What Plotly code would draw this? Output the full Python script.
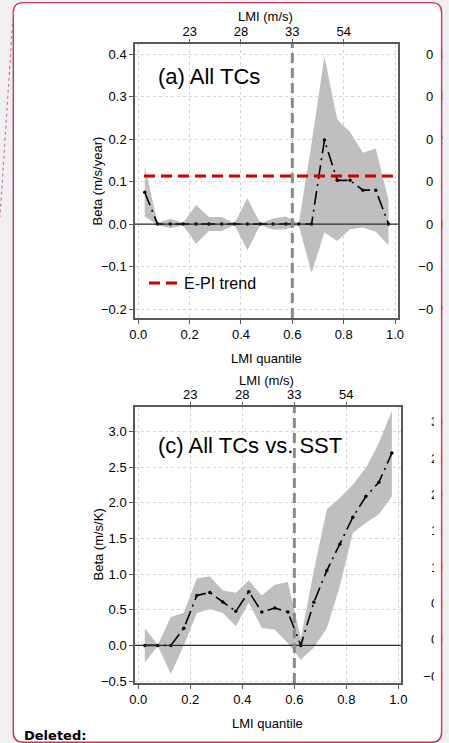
import plotly.graph_objects as go

W, H = 449, 743

# ---------------- data ----------------
quantile = [0.025, 0.075, 0.125, 0.175, 0.225, 0.275, 0.325, 0.375, 0.425, 0.475,
            0.525, 0.575, 0.625, 0.675, 0.725, 0.775, 0.825, 0.875, 0.925, 0.975]

beta_a = [0.075, 0.0, 0.0, 0.0, 0.0, 0.0, 0.0, 0.0, 0.0, 0.0,
          0.0, 0.0, 0.0, 0.0, 0.198, 0.103, 0.103, 0.080, 0.080, 0.0]
upper_a = [0.137, 0.003, 0.012, 0.003, 0.045, 0.017, 0.017, 0.002, 0.061, 0.002,
           0.013, 0.018, 0.002, 0.190, 0.395, 0.246, 0.217, 0.168, 0.178, 0.056]
lower_a = [0.018, -0.002, -0.010, -0.003, -0.046, -0.016, -0.016, -0.002, -0.062, -0.002,
           -0.013, -0.012, -0.002, -0.115, -0.020, -0.040, -0.012, -0.008, -0.018, -0.050]

beta_c = [0.0, 0.0, 0.0, 0.24, 0.70, 0.744, 0.61, 0.478, 0.754, 0.469,
          0.525, 0.469, 0.0, 0.605, 1.05, 1.42, 1.80, 2.09, 2.29, 2.70]
upper_c = [0.24, 0.01, 0.40, 0.46, 0.94, 0.97, 0.77, 0.74, 0.91, 0.70,
           0.85, 0.89, 0.10, 1.05, 1.91, 2.07, 2.26, 2.49, 2.84, 3.29]
lower_c = [-0.24, -0.01, -0.40, 0.0, 0.455, 0.51, 0.455, 0.27, 0.60, 0.244,
           0.22, 0.03, -0.20, -0.03, 0.24, 0.83, 1.58, 1.72, 1.84, 2.09]

epi_trend = 0.113
lmi_threshold_q = 0.6

x_ticks = [0.0, 0.2, 0.4, 0.6, 0.8, 1.0]
lmi_tick_q = [0.2, 0.4, 0.6, 0.8]
lmi_tick_text = ["23", "28", "33", "54"]
y_ticks_a = [-0.2, -0.1, 0.0, 0.1, 0.2, 0.3, 0.4]
y_ticks_c = [-0.5, 0.0, 0.5, 1.0, 1.5, 2.0, 2.5, 3.0]
y_ticks_d = [-0.5, 0.0, 0.5, 1.0, 1.5, 2.0, 2.5, 3.0]

title_a = "(a) All TCs"
title_c = "(c) All TCs vs. SST"
ylab_a = "Beta (m/s/year)"
ylab_c = "Beta (m/s/K)"
xlab = "LMI quantile"
toplab = "LMI (m/s)"

# ---------------- helpers ----------------
def fx(px):
    return px / W

def fy(py):
    return 1 - py / H

FONT = "Liberation Sans, Arial, Helvetica, sans-serif"
BAND = "#bfbfbf"
AX = "#5a5a5a"
GRID = "#d4d4d4"

xr_a = [-0.0129, 1.0117]
yr_a = [-0.221, 0.424]
xr_c = [-0.0127, 1.009]
yr_c = [-0.528, 3.351]
yr_d = [-0.596, 3.206]

dom_x_a = [fx(135), fx(398)]
dom_y_a = [fy(318), fy(44)]
dom_x_c = [fx(135), fx(400.7)]
dom_y_c = [fy(683), fy(406.7)]

fig = go.Figure()

def add_panel(xa, ya, beta, upper, lower):
    fig.add_trace(go.Scatter(x=quantile, y=lower, mode="lines", line=dict(width=0, color=BAND),
                             xaxis=xa, yaxis=ya, showlegend=False, hoverinfo="skip"))
    fig.add_trace(go.Scatter(x=quantile, y=upper, mode="lines", line=dict(width=0, color=BAND),
                             fill="tonexty", fillcolor=BAND,
                             xaxis=xa, yaxis=ya, showlegend=False, hoverinfo="skip"))
    fig.add_trace(go.Scatter(x=quantile, y=beta, mode="lines+markers",
                             line=dict(color="black", width=1.6, dash="14px,5px,2px,5px"),
                             marker=dict(color="black", size=3.5),
                             xaxis=xa, yaxis=ya, showlegend=False))

add_panel("x", "y", beta_a, upper_a, lower_a)
add_panel("x3", "y3", beta_c, upper_c, lower_c)

# E-PI trend line (panel a)
fig.add_trace(go.Scatter(x=[quantile[0] - 0.003, xr_a[1]], y=[epi_trend, epi_trend], mode="lines",
                         line=dict(color="#cc0000", width=3, dash="11px,6px"),
                         name="E-PI trend", xaxis="x", yaxis="y", showlegend=True, hoverinfo="skip"))

# dummy traces so auxiliary axes render
for xa, ya in [("x2", "y"), ("x", "y4"), ("x4", "y3"), ("x3", "y5")]:
    fig.add_trace(go.Scatter(x=[], y=[], xaxis=xa, yaxis=ya, showlegend=False, hoverinfo="skip"))

tickfont = dict(family=FONT, size=13, color="black")

def xaxis_main(domain, rng, anchor):
    return dict(domain=domain, range=rng, anchor=anchor, tickvals=x_ticks, tickformat=".1f",
                ticks="outside", ticklen=4, tickcolor=AX, tickwidth=1,
                showline=True, mirror=True, linecolor=AX, linewidth=1.5,
                showgrid=True, gridcolor=GRID, griddash="dot", gridwidth=1,
                zeroline=False, tickfont=tickfont, automargin=False, fixedrange=True)

def xaxis_top(over, rng, anchor):
    return dict(overlaying=over, side="top", anchor=anchor, range=rng, tickvals=lmi_tick_q,
                ticktext=lmi_tick_text, ticks="outside", ticklen=4, tickcolor=AX,
                showline=False, showgrid=False, zeroline=False, tickfont=tickfont,
                automargin=False, fixedrange=True, ticklabelstandoff=-2)

def yaxis_main(domain, rng, anchor, tv):
    return dict(domain=domain, range=rng, anchor=anchor, tickvals=tv, tickformat=".1f",
                ticks="outside", ticklen=4, tickcolor=AX, tickwidth=1,
                showline=True, mirror=True, linecolor=AX, linewidth=1.5,
                showgrid=True, gridcolor=GRID, griddash="dot", gridwidth=1,
                zeroline=False, tickfont=tickfont, automargin=False, fixedrange=True)

def yaxis_clip(over, rng, tv, standoff):
    return dict(overlaying=over, anchor="free", position=1.0, side="left", range=rng,
                tickvals=tv, tickformat=".1f", ticks="", showline=False, showgrid=False,
                zeroline=False, tickfont=tickfont, automargin=False, fixedrange=True,
                ticklabelstandoff=standoff)

shapes = []
def rrect_path(x0, y0, x1, y1, r):
    return (f"M {fx(x0 + r)},{fy(y0)} L {fx(x1 - r)},{fy(y0)} "
            f"Q {fx(x1)},{fy(y0)} {fx(x1)},{fy(y0 + r)} L {fx(x1)},{fy(y1 - r)} "
            f"Q {fx(x1)},{fy(y1)} {fx(x1 - r)},{fy(y1)} L {fx(x0 + r)},{fy(y1)} "
            f"Q {fx(x0)},{fy(y1)} {fx(x0)},{fy(y1 - r)} L {fx(x0)},{fy(y0 + r)} "
            f"Q {fx(x0)},{fy(y0)} {fx(x0 + r)},{fy(y0)} Z")

box = (13.3, 2.6, 441.6, 742.3, 10)
shapes.append(dict(type="path", xref="paper", yref="paper", path=rrect_path(*box),
                   fillcolor="white", line=dict(width=0), layer="below"))
shapes.append(dict(type="rect", xref="paper", yref="paper", x0=fx(434), x1=fx(441.2),
                   y0=fy(730), y1=fy(14), fillcolor="white", line=dict(width=0), layer="above"))
shapes.append(dict(type="rect", xref="paper", yref="paper", x0=fx(442.3), x1=1,
                   y0=0, y1=1, fillcolor="#f0f0f0", line=dict(width=0), layer="above"))
shapes.append(dict(type="path", xref="paper", yref="paper", path=rrect_path(*box),
                   fillcolor="rgba(0,0,0,0)", line=dict(color="#c8345a", width=1.4), layer="above"))
shapes.append(dict(type="line", xref="paper", yref="paper", x0=fx(13.3), y0=fy(12), x1=fx(0), y1=fy(217),
                   line=dict(color="#d4789a", width=1.2, dash="dot"), layer="above"))

for xa, ya in [("x", "y"), ("x3", "y3")]:
    shapes.append(dict(type="line", xref=f"{xa} domain", yref=ya, x0=0, x1=1, y0=0, y1=0,
                       line=dict(color="#2a2a2a", width=1.2), layer="above"))
    shapes.append(dict(type="line", xref=xa, yref=f"{ya} domain", x0=lmi_threshold_q, x1=lmi_threshold_q,
                       y0=0, y1=1, line=dict(color="#8a8a8a", width=3, dash="10px,5px"), layer="above"))

def ann(text, px, py, size=13, xanchor="center", yanchor="middle", angle=0, bold=False, family=FONT):
    return dict(text=f"<b>{text}</b>" if bold else text, x=fx(px), y=fy(py), xref="paper", yref="paper",
                xanchor=xanchor, yanchor=yanchor, textangle=angle, showarrow=False,
                font=dict(family=family, size=size, color="black"))

annotations = [
    ann(toplab, 265.5, 16.5),
    ann(toplab, 266.5, 380.5),
    ann(title_a, 156, 77, size=22, xanchor="left"),
    ann(title_c, 156, 446, size=22, xanchor="left"),
    ann(ylab_a, 97.5, 181, angle=-90),
    ann(ylab_c, 97.5, 545, angle=-90),
    ann(xlab, 266.5, 358.3),
    ann(xlab, 267.5, 723.3),
    ann("Deleted:", 21.5, 735.5, size=13, xanchor="left", bold=True, family="DejaVu Sans, sans-serif"),
]

fig.update_layout(
    width=W, height=H, autosize=False,
    margin=dict(l=0, r=0, t=0, b=0, pad=0),
    template="none",
    paper_bgcolor="#f0f0f0", plot_bgcolor="rgba(0,0,0,0)",
    font=dict(family=FONT, size=13, color="black"),
    xaxis=xaxis_main(dom_x_a, xr_a, "y"),
    yaxis=yaxis_main(dom_y_a, yr_a, "x", y_ticks_a),
    xaxis2=xaxis_top("x", xr_a, "y"),
    xaxis3=xaxis_main(dom_x_c, xr_c, "y3"),
    yaxis3=yaxis_main(dom_y_c, yr_c, "x3", y_ticks_c),
    xaxis4=xaxis_top("x3", xr_c, "y3"),
    yaxis4=yaxis_clip("y", yr_a, y_ticks_a, 5),
    yaxis5=yaxis_clip("y3", yr_d, y_ticks_d, 0),
    shapes=shapes,
    annotations=annotations,
    showlegend=True,
    legend=dict(x=fx(144), y=fy(283), xanchor="left", yanchor="middle",
                bgcolor="rgba(0,0,0,0)", borderwidth=0,
                font=dict(family=FONT, size=16, color="black")),
)

fig.write_html("out.html")
